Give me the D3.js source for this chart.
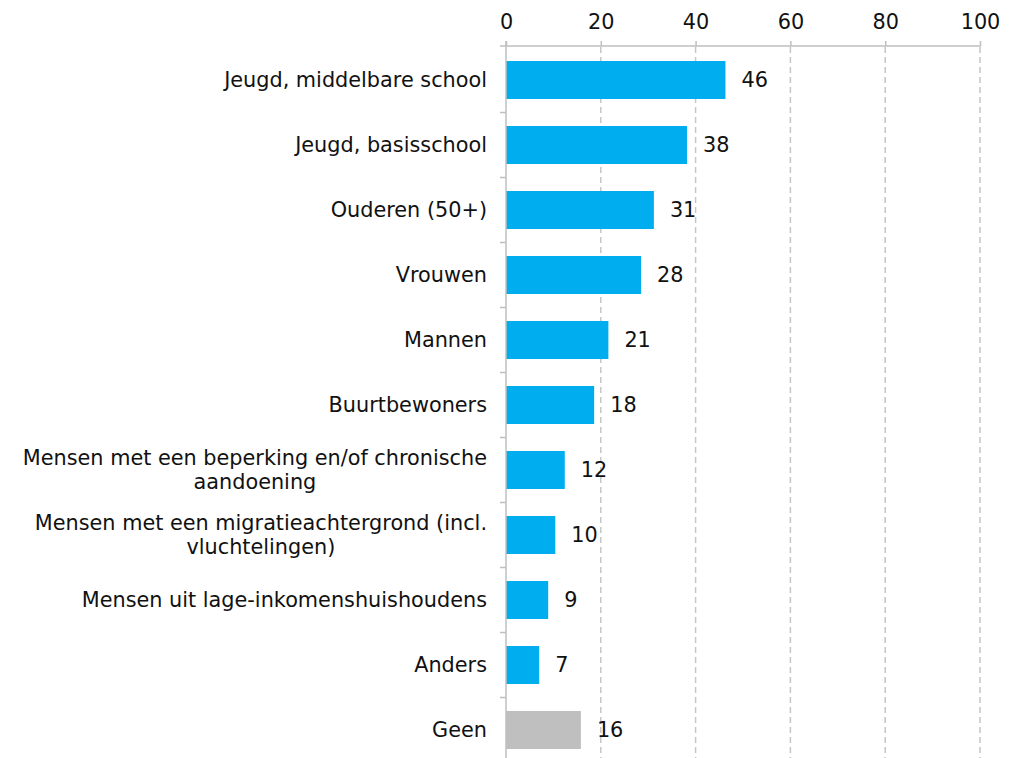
<!DOCTYPE html>
<html>
<head>
<meta charset="utf-8">
<script src="https://cdn.jsdelivr.net/npm/d3@7"></script>
<style>
  body { margin: 0; background: #fff; }
  text { font-family: "DejaVu Sans", sans-serif; fill: #111; }
</style>
</head>
<body>
<svg id="chart"></svg>
<script>
// data
const categories = [
  "Jeugd, middelbare school",
  "Jeugd, basisschool",
  "Ouderen (50+)",
  "Vrouwen",
  "Mannen",
  "Buurtbewoners",
  "Mensen met een beperking en/of chronische aandoening",
  "Mensen met een migratieachtergrond (incl. vluchtelingen)",
  "Mensen uit lage-inkomenshuishoudens",
  "Anders",
  "Geen"
];
const values = [46.3, 38.2, 31.2, 28.5, 21.6, 18.6, 12.4, 10.4, 8.9, 7.0, 15.8];
const valueLabels = ["46", "38", "31", "28", "21", "18", "12", "10", "9", "7", "16"];
const xTicks = [0, 20, 40, 60, 80, 100];

function drawBarH(selector){
  const width = 1015, height = 758;
  const fontSize = 20.8;

  const svg = d3.select(selector)
    .attr("width", width)
    .attr("height", height);

  const x = d3.scaleLinear()
    .domain([0, 100])
    .range([506, 980]);

  const y = d3.scaleBand()
    .domain(categories)
    .range([47.5, 762.5])
    .paddingInner(27/65)
    .paddingOuter(27/130);

  // dashed gridlines
  svg.append("g")
    .selectAll("line")
    .data(xTicks.slice(1))
    .join("line")
      .attr("x1", d => x(d))
      .attr("x2", d => x(d))
      .attr("y1", 47)
      .attr("y2", height)
      .attr("stroke", "#c6c6c6")
      .attr("stroke-width", 1.5)
      .attr("stroke-dasharray", "6,4");

  // top axis
  const xAxis = svg.append("g")
    .attr("transform", "translate(0,46)")
    .call(d3.axisTop(x).tickValues(xTicks).tickSize(5).tickPadding(12).tickSizeOuter(0));
  xAxis.select(".domain").remove();
  xAxis.selectAll(".tick line").attr("stroke", "#bfbfbf").attr("stroke-width", 1.5);
  xAxis.selectAll(".tick text")
    .attr("font-size", fontSize + "px")
    .attr("font-family", "DejaVu Sans")
    .attr("fill", "#111");
  svg.append("line")
    .attr("x1", 500).attr("x2", 981)
    .attr("y1", 46).attr("y2", 46)
    .attr("stroke", "#bfbfbf")
    .attr("stroke-width", 1.5);

  // bars
  svg.append("g")
    .selectAll("rect")
    .data(values)
    .join("rect")
      .attr("x", x(0))
      .attr("y", (d, i) => y(categories[i]))
      .attr("width", d => x(d) - x(0))
      .attr("height", y.bandwidth())
      .attr("fill", (d, i) => categories[i] === "Geen" ? "#bfbfbf" : "#00aeef");

  // left axis line and ticks between categories
  svg.append("line")
    .attr("x1", x(0)).attr("x2", x(0))
    .attr("y1", 41).attr("y2", height)
    .attr("stroke", "#bfbfbf")
    .attr("stroke-width", 1.5);

  svg.append("g")
    .selectAll("line")
    .data(categories.slice(1))
    .join("line")
      .attr("x1", 500)
      .attr("x2", x(0))
      .attr("y1", d => y(d) - y.step() * y.paddingInner() / 2)
      .attr("y2", d => y(d) - y.step() * y.paddingInner() / 2)
      .attr("stroke", "#bfbfbf")
      .attr("stroke-width", 1.5);

  // value labels
  svg.append("g")
    .selectAll("text")
    .data(values)
    .join("text")
      .attr("x", d => x(d) + 16)
      .attr("y", (d, i) => y(categories[i]) + y.bandwidth() / 2)
      .attr("dy", "0.36em")
      .attr("font-size", fontSize + "px")
      .text((d, i) => valueLabels[i]);

  // category labels, wrapped, block right aligned at 487
  const labelRight = 487, maxWidth = 475, lineH = 24;
  const lab = svg.append("g");
  categories.forEach(function(c){
    const cy = y(c) + y.bandwidth() / 2;
    const t = lab.append("text").attr("font-size", fontSize + "px");
    const words = c.split(" ");
    let lines = [], cur = [];
    const probe = t.append("tspan");
    words.forEach(function(w){
      const test = cur.concat([w]).join(" ");
      probe.text(test);
      if (probe.node().getComputedTextLength() > maxWidth && cur.length) {
        lines.push(cur.join(" "));
        cur = [w];
      } else {
        cur.push(w);
      }
    });
    lines.push(cur.join(" "));
    probe.remove();
    let widths = lines.map(function(l){
      const p = t.append("tspan").text(l);
      const w = p.node().getComputedTextLength();
      p.remove();
      return w;
    });
    const maxW = d3.max(widths);
    const cx = lines.length > 1 ? labelRight - maxW / 2 : labelRight;
    t.attr("text-anchor", lines.length > 1 ? "middle" : "end");
    const y0 = cy - (lines.length - 1) * lineH / 2;
    lines.forEach(function(l, k){
      t.append("tspan")
        .attr("x", cx)
        .attr("y", y0 + k * lineH)
        .attr("dy", "0.36em")
        .text(l);
    });
  });
}

drawBarH("#chart");
</script>
</body>
</html>
